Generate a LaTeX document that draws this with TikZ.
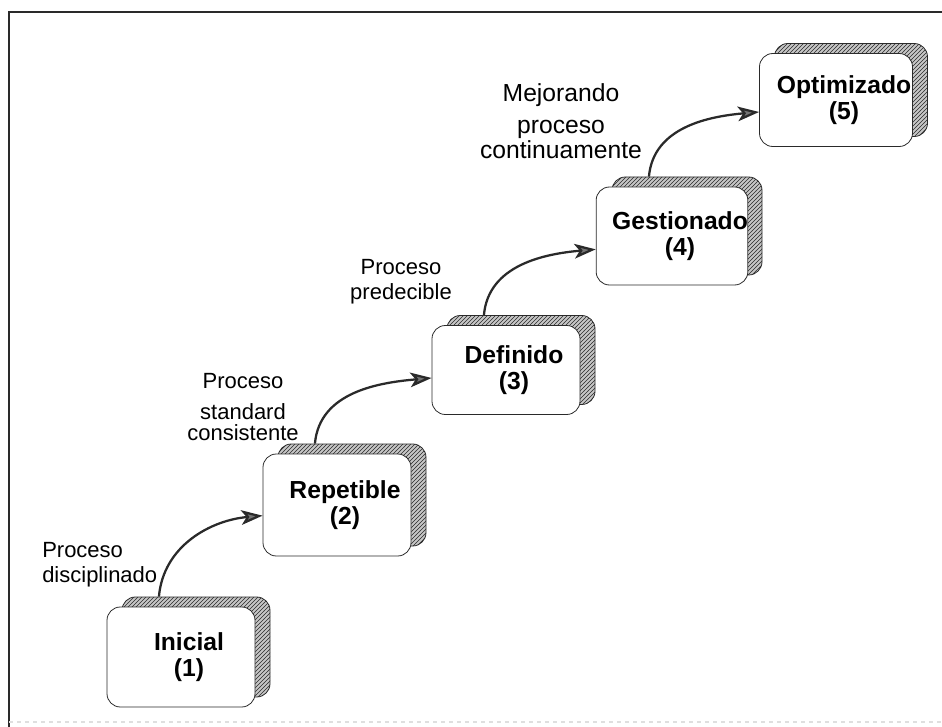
\documentclass[tikz,border=0pt]{standalone}
\usepackage{fontspec}
\setmainfont{Liberation Sans}
\usepackage{xcolor}
\usetikzlibrary{arrows.meta,calc,patterns,positioning}
\definecolor{inkgray}{HTML}{2A2A2A}

\begin{document}
\begin{tikzpicture}[x=0.75pt,y=-0.75pt,
    stagebox/.style={draw=inkgray,line width=0.6pt,fill=white,rounded corners=10pt,
      align=center,inner sep=0pt,font=\fontsize{18.5}{19}\selectfont\bfseries},
    shadowbox/.style={draw=inkgray,line width=0.6pt,rounded corners=10pt,inner sep=0pt,
      preaction={fill=gray!45},pattern=north east lines,pattern color=inkgray},
    steplabel/.style={font=\fontsize{16.5}{19}\selectfont,inner sep=0pt},
    flowarrow/.style={line width=1.7pt,draw=inkgray,
      -{Stealth[length=16pt,width=11pt,inset=4pt,fill=inkgray!65]}}]
  \useasboundingbox (0,0) rectangle (942,727);
  % frame
  \draw[line width=1.5pt,inkgray] (942,12) -- (9,12) -- (9,727);
  \draw[gray!25,dashed,line width=0.8pt] (9,722) -- (942,722);
  % maturity levels
  \foreach \i/\x/\y/\w/\h/\lab in {1/181/657/148/100/Inicial,2/337/505/148/102/Repetible,
      3/506/370/148/89/Definido,4/672/236/150/98/Gestionado,5/836/100/153/93/Optimizado}{
    \node[shadowbox,minimum width=\w*0.75pt,minimum height=\h*0.75pt] (sh\i) at (\x+15,\y-10) {};
    \node[stagebox,minimum width=\w*0.75pt,minimum height=\h*0.75pt] (st\i) at (\x,\y) {\hspace*{12pt}\lab\\\hspace*{12pt}(\i)};
  }
  \foreach \a/\b/\s in {1/2/-8,2/3/-6,3/4/-10,4/5/-9}{
    \draw[flowarrow] ([xshift=28pt]sh\a.north west) to[out=85,in=185] ([yshift=\s pt]st\b.west);
  }
  % transitions
  \node[steplabel,align=left,anchor=west] (l1) at (42,565) {Proceso\\disciplinado};
  \node[steplabel,align=center] (l2) at (243,407) {Proceso\\[4pt]standard\\[-3pt]consistente};
  \node[steplabel,align=center] (l3) at (401,282) {Proceso\\predecible};
  \node[steplabel,align=center,font=\fontsize{18.5}{21}\selectfont] (l4) at (561,121)
    {Mejorando\\[3pt]proceso\\[-2pt]continuamente};
\end{tikzpicture}
\end{document}
